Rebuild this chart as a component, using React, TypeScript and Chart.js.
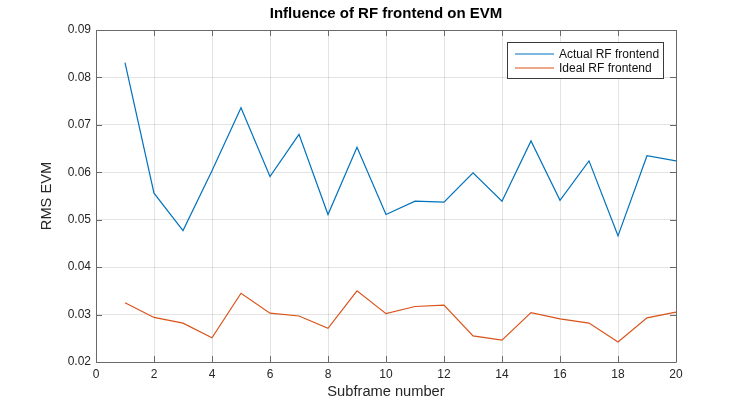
import React, { useEffect, useRef } from "react";
import { Chart, registerables } from "chart.js";

Chart.register(...registerables);

const subframes = [1, 2, 3, 4, 5, 6, 7, 8, 9, 10, 11, 12, 13, 14, 15, 16, 17, 18, 19, 20];
const actualEVM = [0.0831, 0.0556, 0.0477, 0.0603, 0.0736, 0.0591, 0.068, 0.0511, 0.0653, 0.0511, 0.0539, 0.0537, 0.0599, 0.0539, 0.0666, 0.0541, 0.0624, 0.0466, 0.0635, 0.0624];
const idealEVM = [0.0325, 0.0294, 0.0282, 0.0251, 0.0345, 0.0303, 0.0297, 0.0271, 0.035, 0.0302, 0.0317, 0.032, 0.0255, 0.0246, 0.0304, 0.0291, 0.0282, 0.0242, 0.0293, 0.0305];
const seriesNames = ["Actual RF frontend", "Ideal RF frontend"];
const seriesColors = ["#0072BD", "#D95319"];
const titleText = "Influence of RF frontend on EVM";
const xTitle = "Subframe number";
const yTitle = "RMS EVM";

const FONT = "'Liberation Sans', Arial, Helvetica, sans-serif";
const AXIS_COLOR = "#6a6a6a";

const boxPlugin = {
  id: "matlabBox",
  afterDraw(chart: any) {
    const { ctx, chartArea } = chart;
    const { left, right, top, bottom } = chartArea;
    const xs = chart.scales.x;
    const ys = chart.scales.y;
    ctx.save();

    // title centred over the plot area
    ctx.font = `bold 15px ${FONT}`;
    ctx.fillStyle = "#000";
    ctx.textAlign = "center";
    ctx.textBaseline = "middle";
    ctx.fillText(titleText, (left + right) / 2, 14);

    ctx.strokeStyle = AXIS_COLOR;
    ctx.lineWidth = 1;
    ctx.beginPath();
    ctx.rect(Math.round(left) + 0.5, Math.round(top) + 0.5, Math.round(right - left), Math.round(bottom - top));
    ctx.stroke();
    const tl = 6;
    ctx.beginPath();
    xs.ticks.forEach((t: any) => {
      const px = Math.round(xs.getPixelForValue(t.value)) + 0.5;
      ctx.moveTo(px, bottom);
      ctx.lineTo(px, bottom - tl);
      ctx.moveTo(px, top);
      ctx.lineTo(px, top + tl);
    });
    ys.ticks.forEach((t: any) => {
      const py = Math.round(ys.getPixelForValue(t.value)) + 0.5;
      ctx.moveTo(left, py);
      ctx.lineTo(left + tl, py);
      ctx.moveTo(right, py);
      ctx.lineTo(right - tl, py);
    });
    ctx.stroke();

    // legend
    const bw = 156;
    const bh = 36;
    const bx = Math.round(right) - 13 - bw;
    const by = Math.round(top) + 12;
    ctx.fillStyle = "#ffffff";
    ctx.fillRect(bx, by, bw, bh);
    ctx.strokeStyle = "#3a3a3a";
    ctx.strokeRect(bx + 0.5, by + 0.5, bw, bh);
    ctx.font = `12px ${FONT}`;
    ctx.textBaseline = "middle";
    ctx.textAlign = "left";
    chart.data.datasets.forEach((ds: any, i: number) => {
      const ly = by + 12 + i * 14;
      ctx.strokeStyle = ds.borderColor;
      ctx.lineWidth = 1.2;
      ctx.beginPath();
      ctx.moveTo(bx + 8, ly);
      ctx.lineTo(bx + 47, ly);
      ctx.stroke();
      ctx.fillStyle = "#111";
      ctx.fillText(ds.label, bx + 52, ly + 0.5);
    });
    ctx.restore();
  },
};

export default function App() {
  const canvasRef = useRef<HTMLCanvasElement | null>(null);

  useEffect(() => {
    if (!canvasRef.current) return;
    const chart = new Chart(canvasRef.current, {
      type: "line",
      data: {
        datasets: [
          {
            label: seriesNames[0],
            data: subframes.map((x, i) => ({ x, y: actualEVM[i] })),
            borderColor: seriesColors[0],
            backgroundColor: seriesColors[0],
            borderWidth: 1.2,
            pointRadius: 0,
            tension: 0,
          },
          {
            label: seriesNames[1],
            data: subframes.map((x, i) => ({ x, y: idealEVM[i] })),
            borderColor: seriesColors[1],
            backgroundColor: seriesColors[1],
            borderWidth: 1.2,
            pointRadius: 0,
            tension: 0,
          },
        ],
      },
      options: {
        animation: false,
        responsive: false,
        maintainAspectRatio: false,
        layout: { padding: { left: 0, right: 71, top: 30, bottom: 0 } },
        plugins: {
          legend: { display: false },
          tooltip: { enabled: false },
          title: { display: false },
        },
        scales: {
          x: {
            type: "linear",
            min: 0,
            max: 20,
            afterFit: (s: any) => {
              s.height = 45;
            },
            ticks: {
              stepSize: 2,
              padding: 5,
              color: "#262626",
              font: { family: FONT, size: 12 },
              maxRotation: 0,
            },
            grid: { color: "rgba(0,0,0,0.11)", drawTicks: false },
            border: { display: false },
            title: {
              display: true,
              text: xTitle,
              color: "#262626",
              font: { family: FONT, size: 14.67 },
              padding: { top: 0, bottom: 6 },
            },
          },
          y: {
            type: "linear",
            min: 0.02,
            max: 0.09,
            afterFit: (s: any) => {
              s.width = 96;
            },
            ticks: {
              stepSize: 0.01,
              padding: 5,
              color: "#262626",
              font: { family: FONT, size: 12 },
              callback: (v: any) => Number(v).toFixed(2),
            },
            grid: { color: "rgba(0,0,0,0.11)", drawTicks: false },
            border: { display: false },
            title: {
              display: true,
              text: yTitle,
              color: "#262626",
              font: { family: FONT, size: 14.67 },
              padding: { top: 38, bottom: 0 },
            },
          },
        },
      },
      plugins: [boxPlugin],
    });
    return () => chart.destroy();
  }, []);

  return (
    <div style={{ position: "fixed", left: 0, top: 0, width: 747, height: 407, background: "#fff" }}>
      <canvas ref={canvasRef} width={747} height={407} style={{ width: 747, height: 407, display: "block" }} />
    </div>
  );
}
